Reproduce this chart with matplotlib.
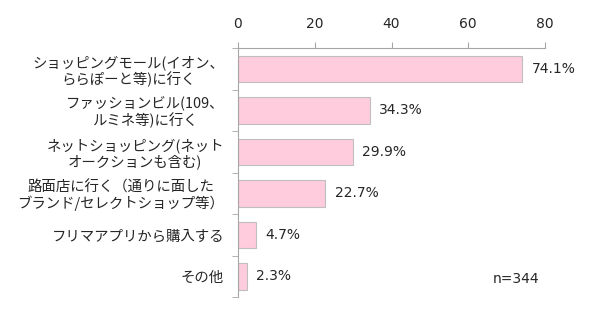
import numpy as np
import matplotlib.pyplot as plt

plt.rcParams['font.family'] = ['Noto Sans CJK JP', 'DejaVu Sans']

labels = [
    "ショッピングモール(イオン、\nららぽーと等)に行く",
    "ファッションビル(109、\nルミネ等)に行く",
    "ネットショッピング(ネット\nオークションも含む)",
    "路面店に行く（通りに面した\nブランド/セレクトショップ等）",
    "フリマアプリから購入する",
    "その他",
]
values = [74.1, 34.3, 29.9, 22.7, 4.7, 2.3]
x_ticks = [0, 20, 40, 60, 80]
n_text = "n=344"

num_font = ['DejaVu Sans']

fig = plt.figure(figsize=(5.91, 3.16), dpi=100)
ax = fig.add_axes([0.4027, 0.060, 0.5195, 0.788])

y = np.arange(len(values))
ax.barh(y, values, height=0.64, color="#FFCCDD", edgecolor="#BFBFBF", linewidth=0.8)

for yi, v in zip(y, values):
    ax.text(v + 2.5, yi, f"{v:.1f}%", va="center", ha="left", fontsize=10,
            color="#262626", family=num_font)

ax.set_xlim(0, 80)
ax.set_ylim(len(values) - 0.5, -0.5)
ax.xaxis.tick_top()
ax.set_xticks(x_ticks)
ax.set_xticklabels([str(t) for t in x_ticks], family=num_font)
ax.tick_params(axis="x", direction="out", length=4, color="#A6A6A6", labelsize=10,
               labelcolor="#262626", pad=8)

ax.set_yticks(y)
ax.set_yticklabels(labels, fontsize=10.4, color="#262626", multialignment="center",
                   linespacing=1.1)
ax.set_yticks(np.arange(len(values) + 1) - 0.5, minor=True)
ax.tick_params(axis="y", which="major", length=0, pad=10)
ax.tick_params(axis="y", which="minor", direction="out", length=4, color="#A6A6A6")

for s in ["right", "bottom"]:
    ax.spines[s].set_visible(False)
for s in ["left", "top"]:
    ax.spines[s].set_color("#A6A6A6")
    ax.spines[s].set_linewidth(0.8)

ax.text(0.912, 0.117, n_text, transform=fig.transFigure, fontsize=10, color="#262626",
        ha="right", va="center", family=num_font)

fig.savefig("out.png", dpi=100)
